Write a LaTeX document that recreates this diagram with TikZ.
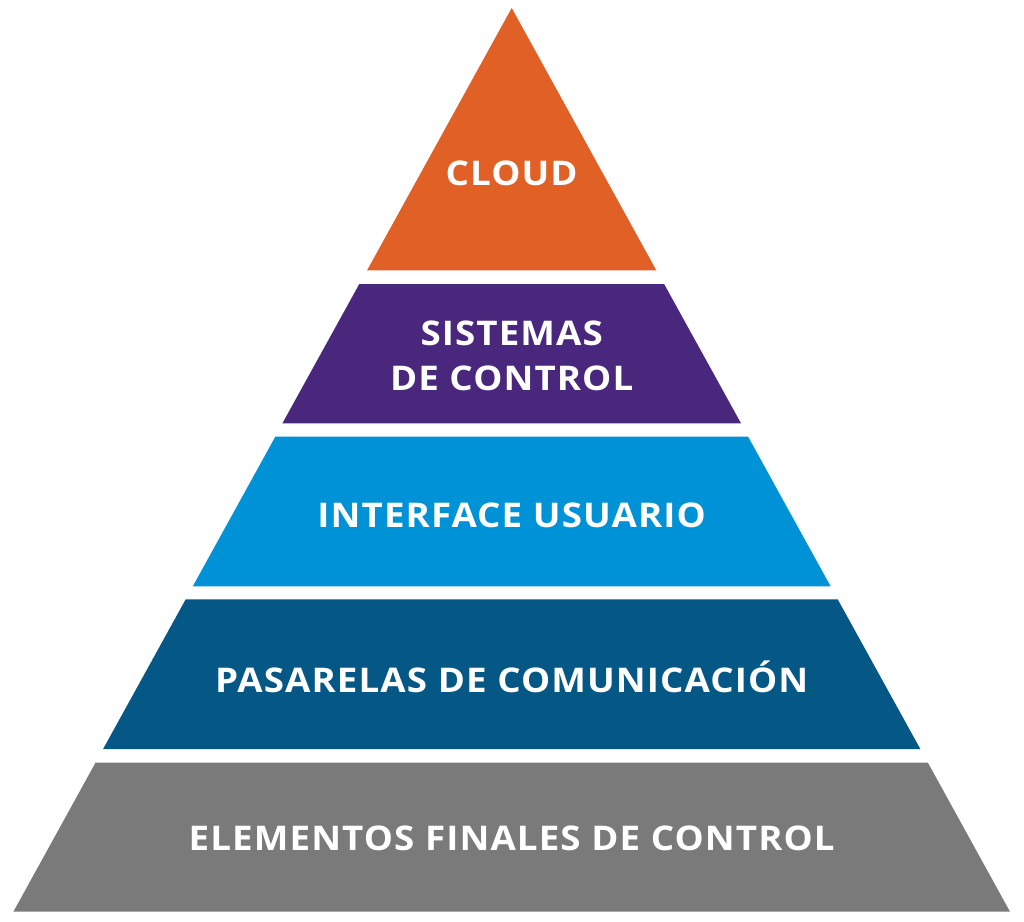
\documentclass[tikz,border=0pt]{standalone}
\usepackage{fontspec}
\setmainfont[LetterSpace=3]{Open Sans}
\definecolor{cOrange}{HTML}{E06026}
\definecolor{cPurple}{HTML}{48277D}
\definecolor{cBlue}{HTML}{0092D6}
\definecolor{cDark}{HTML}{055785}
\definecolor{cGray}{HTML}{7A7A7A}
\tikzset{
  lbl/.style={text=white, font=\fontsize{34}{45}\selectfont\bfseries, align=center, inner sep=0pt, xscale=1.08},
}
\begin{document}
\begin{tikzpicture}[x=1pt,y=-1pt]
\useasboundingbox (0,0) rectangle (1024,921);
% left edge x(y) = 511.7 - 0.5514*(y-8)
\fill[cOrange] (511.7,8) -- (656.3,270.3) -- (367.1,270.3) -- cycle;
\fill[cPurple] (359.3,284) -- (664.1,284) -- (741.0,423.3) -- (282.4,423.3) -- cycle;
\fill[cBlue] (275.3,436.7) -- (748.1,436.7) -- (830.6,586.3) -- (192.8,586.3) -- cycle;
\fill[cDark] (185.7,599.3) -- (837.7,599.3) -- (920.3,749) -- (103.1,749) -- cycle;
\fill[cGray] (95.5,762.7) -- (927.9,762.7) -- (1010,911.7) -- (13.4,911.7) -- cycle;
\node[lbl] (cloud) at (511.7,173) {CLOUD};
\node[lbl] (sist) at (511.7,356) {SISTEMAS\\DE CONTROL};
\node[lbl] (inter) at (511.7,515) {INTERFACE USUARIO};
\node[lbl] (pas) at (511.7,677) {PASARELAS DE COMUNICACIÓN};
\node[lbl] (elem) at (511.7,838) {ELEMENTOS FINALES DE CONTROL};
\end{tikzpicture}
\end{document}
